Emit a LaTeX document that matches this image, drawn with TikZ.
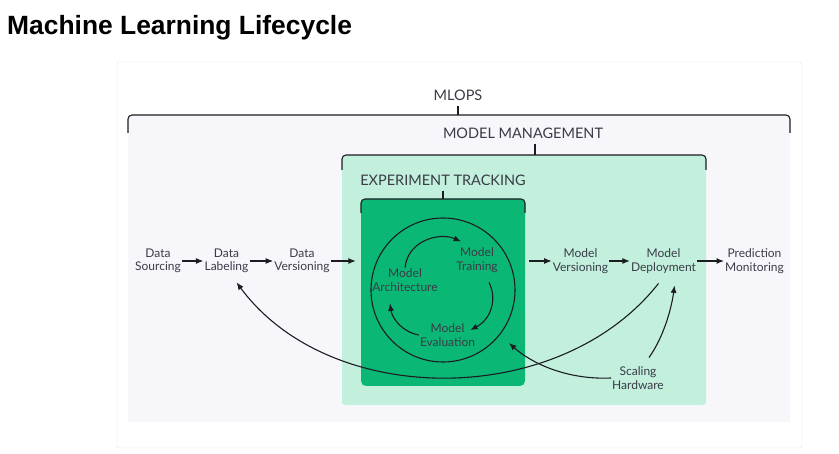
\documentclass[tikz,border=0pt]{standalone}
\usepackage{fontspec}
\setmainfont{Lato}
\newfontfamily\titlefont{Liberation Sans}
\usetikzlibrary{arrows.meta}

\definecolor{cardline}{HTML}{E2E3E9}
\definecolor{opsfill}{HTML}{F6F6FB}
\definecolor{mgmtfill}{HTML}{C2F0DD}
\definecolor{expfill}{HTML}{0BB775}
\definecolor{ink}{HTML}{3A3B47}
\definecolor{wire}{HTML}{1C1C22}

\tikzset{
  lbl/.style={text=ink, align=center, inner sep=1pt,
    font=\fontsize{12}{13.5}\selectfont},
  hdr/.style={text=ink, inner sep=5pt, font=\fontsize{14.5}{16}\selectfont},
  arr/.style={draw=wire, line width=1.1pt,
    arrows={-{Latex[length=7.5pt,width=6pt]}}},
  bracket/.style={draw=wire, line width=1.1pt, rounded corners=4pt},
  tick/.style={draw=wire, line width=1.1pt},
}

\begin{document}
\begin{tikzpicture}[x=1pt,y=-1pt]
\useasboundingbox (0,0) rectangle (839,454);

\node (title) [anchor=west, inner sep=0pt,
  font=\titlefont\bfseries\fontsize{26.4}{30}\selectfont] at (7,28)
  {Machine Learning Lifecycle};

\draw [cardline, rounded corners=2pt] (117,62) rectangle (802,448);

% mlops
\fill [opsfill] (128,115) rectangle (790,422);
\draw [bracket] (128,133) -- (128,115) -- (790,115) -- (790,133);
\node (mlops) [hdr] at (458,95) {MLOPS};
\coordinate (opstop) at (458,115);
\draw [tick] (mlops.south) -- (opstop);

% model management
\fill [mgmtfill, rounded corners=3pt] (342,155) rectangle (706,405);
\draw [bracket] (342,170) -- (342,155) -- (706,155) -- (706,170);
\node (mgmt) [hdr] at (523,133) {MODEL MANAGEMENT};
\coordinate (mgmttop) at (535,155);
\draw [tick] (mgmt.south -| mgmttop) -- (mgmttop);

% experiment tracking
\node (exp) [fill=expfill, rounded corners=5pt, minimum width=164,
  minimum height=187, inner sep=0pt] at (443,292.5) {};
\draw [bracket] (361,213) -- (361,199) -- (525,199) -- (525,213);
\node (track) [hdr] at (443,180) {EXPERIMENT TRACKING};
\draw [tick] (track.south) -- (track.south |- exp.north);

\node (cycle) [draw=wire, circle, line width=1.1pt, minimum size=144,
  inner sep=0pt] at (443,290) {};

\node (arch)  [lbl] at (405,280) {Model\\Architecture};
\node (train) [lbl] at (477,260) {Model\\Training};
\node (evalu) [lbl] at (447.5,335) {Model\\Evaluation};

\draw [arr] (arch.north) .. controls (408,240) and (440,232) ..
  ([xshift=6pt,yshift=5pt]train.north west);
\draw [arr] ([xshift=12pt,yshift=-9pt]train.south) .. controls (498,300) and (490,320) ..
  ([xshift=-6pt,yshift=5pt]evalu.east);
\draw [arr] (evalu.west) .. controls (402,332) and (392,318) ..
  ([xshift=-15pt,yshift=-11pt]arch.south);

% pipeline
\node (sourcing) [lbl] at (158,261) {Data\\Sourcing};
\node (labeling) [lbl] at (226.5,261) {Data\\Labeling};
\node (dversion) [lbl] at (302,261) {Data\\Versioning};
\node (mversion) [lbl] at (580.5,261) {Model\\Versioning};
\node (deploy)   [lbl] at (663.5,261) {Model\\Deployment};
\node (monitor)  [lbl] at (754.5,261) {Prediction\\Monitoring};
\node (hw)       [lbl] at (638,378) {Scaling\\Hardware};

\draw [arr] (sourcing) -- (labeling);
\draw [arr] (labeling) -- (dversion);
\draw [arr, shorten >=5pt] (dversion.east) -- (exp.west |- dversion.east);
\draw [arr, shorten <=4pt] (exp.east |- mversion.west) -- (mversion.west);
\draw [arr] (mversion) -- (deploy);
\draw [arr] (deploy) -- (monitor);

\draw [arr] ([xshift=-5pt,yshift=-9pt]deploy.south) .. controls (560,409) and (330,409) ..
  ([xshift=10pt,yshift=-8pt]labeling.south);

\coordinate (evalin) at (509,343);
\draw [arr] (hw.west) .. controls (565,380) and (530,362) .. (evalin);
\draw [arr] ([xshift=11pt,yshift=8pt]hw.north) .. controls (665,335) and (672,305) ..
  ([xshift=11pt,yshift=-11pt]deploy.south);

\end{tikzpicture}
\end{document}
